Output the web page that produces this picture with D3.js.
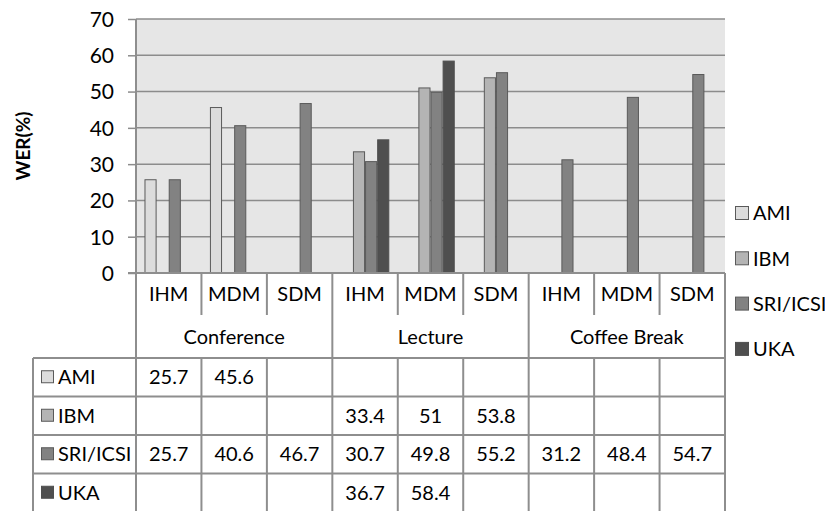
<!DOCTYPE html>
<html><head><meta charset="utf-8">
<script src="https://cdn.jsdelivr.net/npm/d3@7"></script>
<style>body{margin:0;background:#fff}svg{display:block}text{font-family:Lato,"Open Sans",sans-serif;fill:#000}</style>
</head><body>
<svg id="c" width="825" height="511"></svg>
<script>
const groups = ["Conference","Lecture","Coffee Break"];
const subs = ["IHM","MDM","SDM"];
const series = ["AMI","IBM","SRI/ICSI","UKA"];
const colors = ["#dcdcdc","#b4b4b4","#828282","#4f4f4f"];
// values per series across the 9 categories (null = no entry)
const AMI  = [25.7,45.6,null,null,null,null,null,null,null];
const IBM  = [null,null,null,33.4,51,53.8,null,null,null];
const SRI  = [25.7,40.6,46.7,30.7,49.8,55.2,31.2,48.4,54.7];
const UKA  = [null,null,null,36.7,58.4,null,null,null,null];
const yTicks = [0,10,20,30,40,50,60,70];
const yLabel = "WER(%)";

const seriesVals = [AMI,IBM,SRI,UKA];
const cats = [];
groups.forEach(g=>subs.forEach(s=>cats.push(g+"|"+s)));

const svg = d3.select("#c");
const L=136,R=725,T=19,B=273;
const tblL=33, r1=315, r2=358, rowH=38.5;
const lineC="#8e8e8e";

const x0 = d3.scaleBand().domain(cats).range([L,R]).padding(0);
const x1 = d3.scaleBand().domain(series).range([0,x0.bandwidth()]).paddingInner(0).paddingOuter(0.7);
const y = d3.scaleLinear().domain([0,70]).range([B,T]);

svg.append("rect").attr("x",L).attr("y",T).attr("width",R-L).attr("height",B-T).attr("fill","#e6e6e6");
svg.append("g").selectAll("line").data(yTicks.filter(d=>d>0)).join("line")
  .attr("x1",L).attr("x2",R).attr("y1",d=>y(d)).attr("y2",d=>y(d))
  .attr("stroke","#8c8c8c").attr("stroke-width",1.5);

seriesVals.forEach((vals,si)=>{
  svg.append("g").selectAll("rect").data(vals.map((v,i)=>({v,c:cats[i]})).filter(d=>d.v!=null)).join("rect")
    .attr("x",d=>x0(d.c)+x1(series[si])+0.5)
    .attr("y",d=>y(d.v))
    .attr("width",x1.bandwidth()-1)
    .attr("height",d=>B-y(d.v))
    .attr("fill",colors[si])
    .attr("stroke",si===3?"#4f4f4f":"#5a5a5a").attr("stroke-width",1);
});

const yAxis = d3.axisLeft(y).tickValues(yTicks).tickSize(8).tickPadding(14);
const ga = svg.append("g").attr("transform",`translate(${L},0)`).call(yAxis);
ga.select(".domain").remove();
ga.selectAll(".tick line").attr("stroke","#8c8c8c").attr("stroke-width",1.5);
ga.selectAll(".tick text").attr("font-size",21).attr("font-family","Lato").attr("fill","#000").attr("dy","0.35em");
svg.append("line").attr("x1",L).attr("x2",L).attr("y1",T).attr("y2",511).attr("stroke",lineC).attr("stroke-width",2);
svg.append("line").attr("x1",L-8).attr("x2",R).attr("y1",B).attr("y2",B).attr("stroke",lineC).attr("stroke-width",2);

svg.append("text").attr("transform","translate(23,146) rotate(-90)").attr("text-anchor","middle")
  .attr("dy","0.35em").attr("font-weight","bold").attr("font-size",19).text(yLabel);

const bnds = cats.map(c=>x0(c)).concat([R]);
const tl = svg.append("g");
bnds.forEach((bx,i)=>{
  if(i===0) return;
  const isGroup = (i%3===0);
  tl.append("line").attr("x1",bx).attr("x2",bx).attr("y1",B).attr("y2",isGroup?511:r1)
    .attr("stroke",lineC).attr("stroke-width",2);
  if(!isGroup) tl.append("line").attr("x1",bx).attr("x2",bx).attr("y1",r2).attr("y2",511)
    .attr("stroke",lineC).attr("stroke-width",2);
});
tl.selectAll("text.sub").data(cats).join("text").attr("class","sub")
  .attr("x",c=>x0(c)+x0.bandwidth()/2).attr("y",(B+r1)/2).attr("dy","0.36em")
  .attr("text-anchor","middle").attr("font-size",20).text(c=>c.split("|")[1]);
tl.selectAll("text.grp").data(groups).join("text").attr("class","grp")
  .attr("x",(g,i)=>(bnds[i*3]+bnds[i*3+3])/2).attr("y",(r1+r2)/2).attr("dy","0.36em")
  .attr("text-anchor","middle").attr("font-size",20).text(g=>g);

tl.append("line").attr("x1",tblL).attr("x2",tblL).attr("y1",r2).attr("y2",511).attr("stroke",lineC).attr("stroke-width",2);
[0,1,2,3].forEach(i=>{
  tl.append("line").attr("x1",tblL).attr("x2",R).attr("y1",r2+i*rowH).attr("y2",r2+i*rowH).attr("stroke",lineC).attr("stroke-width",2);
});
series.forEach((s,si)=>{
  const cy = r2+si*rowH+rowH/2;
  tl.append("rect").attr("x",41.5).attr("y",cy-6.5).attr("width",12).attr("height",12)
    .attr("fill",colors[si]).attr("stroke",si===3?"#4f4f4f":"#5a5a5a");
  tl.append("text").attr("x",58).attr("y",cy).attr("dy","0.36em").attr("font-size",20).text(s);
  seriesVals[si].forEach((v,i)=>{
    if(v==null) return;
    tl.append("text").attr("x",x0(cats[i])+x0.bandwidth()/2).attr("y",cy).attr("dy","0.36em")
      .attr("text-anchor","middle").attr("font-size",20).text(v);
  });
});

const lg = svg.append("g");
series.forEach((s,si)=>{
  const cy = 213 + si*45.3;
  lg.append("rect").attr("x",735.5).attr("y",cy-6.5).attr("width",13).attr("height",13)
    .attr("fill",colors[si]).attr("stroke",si===3?"#4f4f4f":"#5a5a5a");
  lg.append("text").attr("x",753).attr("y",cy).attr("dy","0.36em").attr("font-size",20).text(s);
});
</script>
</body></html>
